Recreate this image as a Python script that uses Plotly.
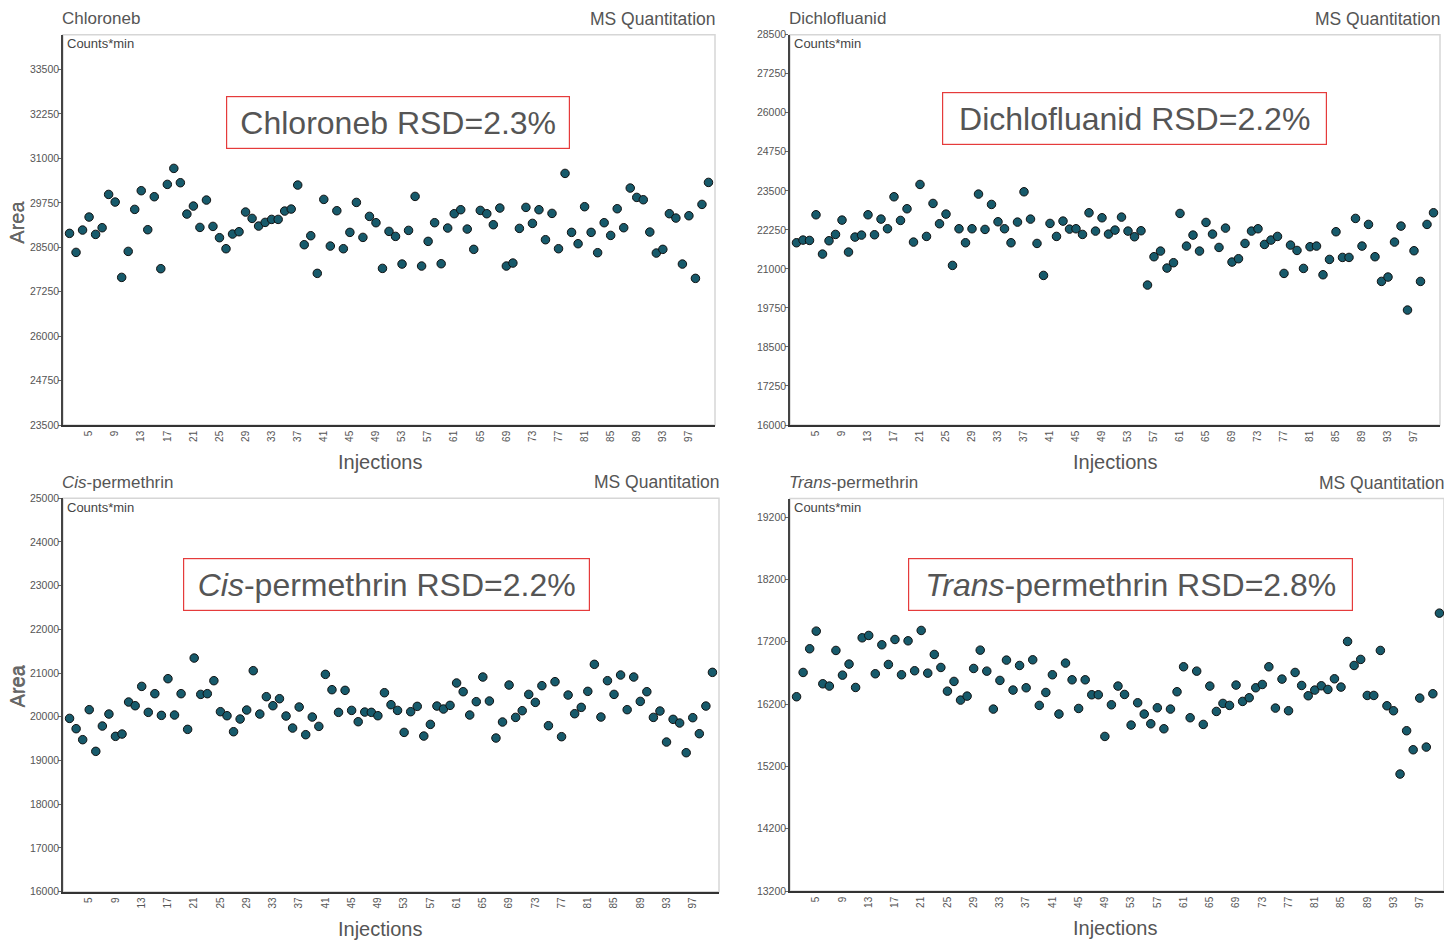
import plotly.graph_objects as go

# ---------------- data ----------------
injections = list(range(2, 101))
x_tick_vals = [5, 9, 13, 17, 21, 25, 29, 33, 37, 41, 45, 49, 53, 57, 61, 65, 69, 73, 77, 81, 85, 89, 93, 97]
x_tick_text = [str(v) for v in x_tick_vals]

chloroneb = [28891, 28356, 28984, 29350, 28862, 29050, 29987, 29772, 27653, 28384,
             29566, 30091, 28994, 29922, 27897, 30269, 30719, 30316, 29434, 29659,
             29059, 29828, 29087, 28769, 28459, 28872, 28937, 29491, 29312, 29097,
             29200, 29284, 29284, 29519, 29575, 30250, 28572, 28825, 27766, 29847,
             28534, 29528, 28459, 28919, 29762, 28778, 29369, 29191, 27906, 28947,
             28806, 28028, 28975, 29931, 27972, 28666, 29191, 28037, 29041, 29444,
             29556, 29012, 28441, 29537, 29444, 29134, 29603, 27972, 28056, 29031,
             29622, 29172, 29556, 28712, 29453, 28459, 30578, 28919, 28600, 29641,
             28919, 28347, 29191, 28834, 29584, 29050, 30166, 29903, 29837, 28928,
             28337, 28441, 29444, 29322, 28028, 29387, 27625, 29706, 30325]

dichlofluanid = [21837, 21922, 21911, 22733, 21474, 21901, 22104, 22562, 21538, 22018,
                 22082, 22733, 22093, 22594, 22285, 23309, 22552, 22925, 21858, 23704,
                 22040, 23096, 22445, 22754, 21111, 22285, 21837, 22285, 23395, 22264,
                 23064, 22509, 22285, 21837, 22498, 23469, 22594, 21815, 20791, 22456,
                 22040, 22530, 22274, 22285, 22104, 22797, 22210, 22637, 22114, 22242,
                 22658, 22210, 22029, 22221, 20482, 21389, 21570, 21026, 21197, 22776,
                 21730, 22082, 21570, 22488, 22114, 21687, 22306, 21218, 21325, 21815,
                 22210, 22285, 21783, 21922, 22040, 20855, 21762, 21591, 21015, 21709,
                 21730, 20812, 21303, 22189, 21367, 21367, 22616, 21730, 22424, 21389,
                 20599, 20738, 21858, 22370, 19681, 21581, 20599, 22424, 22797]

cis_permethrin = [19964, 19728, 19477, 20163, 19210, 19789, 20063, 19553, 19606, 20338,
                  20254, 20696, 20102, 20529, 20033, 20872, 20041, 20529, 19713, 21344,
                  20513, 20529, 20826, 20117, 20025, 19659, 19949, 20155, 21055, 20063,
                  20460, 20254, 20414, 20018, 19743, 20224, 19591, 19995, 19781, 20971,
                  20620, 20102, 20605, 20147, 19888, 20109, 20102, 20025, 20551, 20277,
                  20147, 19644, 20117, 20239, 19560, 19827, 20246, 20178, 20262, 20773,
                  20574, 20041, 20346, 20910, 20361, 19515, 19881, 20727, 19987, 20140,
                  20513, 20330, 20712, 19797, 20803, 19545, 20498, 20071, 20216, 20582,
                  21200, 19995, 20826, 20513, 20956, 20163, 20910, 20353, 20574, 19987,
                  20132, 19423, 19942, 19858, 19179, 19980, 19614, 20246, 21017]

trans_permethrin = [16318, 16708, 17088, 17371, 16526, 16489, 17061, 16665, 16842, 16467,
                    17264, 17302, 16687, 17152, 16836, 17237, 16671, 17216, 16735, 17382,
                    16697, 16997, 16788, 16408, 16564, 16264, 16328, 16772, 17066, 16729,
                    16120, 16580, 16906, 16425, 16820, 16462, 16911, 16179, 16387, 16671,
                    16040, 16858, 16590, 16130, 16590, 16350, 16350, 15681, 16189, 16489,
                    16355, 15863, 16221, 16040, 15884, 16141, 15804, 16120, 16398, 16799,
                    15981, 16729, 15874, 16489, 16082, 16211, 16179, 16505, 16243, 16302,
                    16462, 16515, 16799, 16136, 16601, 16093, 16708, 16499, 16334, 16425,
                    16494, 16435, 16606, 16473, 17205, 16820, 16917, 16339, 16339, 17061,
                    16173, 16093, 15077, 15772, 15467, 16296, 15510, 16366, 17660]

panel_titles = ["Chloroneb", "Dichlofluanid", "<i>Cis</i>-permethrin", "<i>Trans</i>-permethrin"]
rsd_labels = ["Chloroneb RSD=2.3%", "Dichlofluanid RSD=2.2%",
              "<i>Cis</i>-permethrin RSD=2.2%", "<i>Trans</i>-permethrin RSD=2.8%"]
series = [chloroneb, dichlofluanid, cis_permethrin, trans_permethrin]

# ---------------- layout (pixels) ----------------
W, H = 1444, 942
FONT = "Liberation Sans, Arial, Helvetica, sans-serif"
TEXT = "#555555"
MARK = "#175a6b"
RED = "#e53b3b"


def fx(p):
    return p / W


def fy(p):
    return 1 - p / H


panels = [
    dict(x0=63, x1=715, y0=34.7, y1=425, yr=[23500, 34480], dt=1250, t0=23500, xr=[1, 101],
         box=(398, 122.5, 344, 53), ms_right=715, inj_x=381),
    dict(x0=790, x1=1440, y0=34.7, y1=425, yr=[16000, 28500], dt=1250, t0=16000, xr=[1, 101],
         box=(1134.5, 118.5, 385, 53), ms_right=1440, inj_x=1115),
    dict(x0=63, x1=719, y0=498.2, y1=891.7, yr=[16000, 25000], dt=1000, t0=16000, xr=[1, 101],
         box=(386.5, 584.5, 407, 53), ms_right=719, inj_x=381),
    dict(x0=790, x1=1444, y0=498.5, y1=891, yr=[13200, 19500], dt=1000, t0=13200, xr=[1, 100.7],
         box=(1130.5, 584.5, 445, 53), ms_right=1444, inj_x=1115),
]

fig = go.Figure()
layout = dict(
    width=W, height=H,
    margin=dict(l=0, r=0, t=0, b=0, autoexpand=False),
    paper_bgcolor="white", plot_bgcolor="white",
    showlegend=False,
    font=dict(family=FONT, color=TEXT),
)
annotations = []
shapes = []

for i, (p, vals) in enumerate(zip(panels, series)):
    n = i + 1
    xa = "xaxis" if n == 1 else f"xaxis{n}"
    ya = "yaxis" if n == 1 else f"yaxis{n}"
    xr_ = "x" if n == 1 else f"x{n}"
    yr_ = "y" if n == 1 else f"y{n}"

    fig.add_trace(go.Scatter(
        x=injections, y=vals, xaxis=xr_, yaxis=yr_, mode="markers",
        marker=dict(size=8.5, color=MARK, line=dict(color="#111111", width=1)),
        cliponaxis=False, hoverinfo="x+y",
    ))

    layout[xa] = dict(
        domain=[fx(p["x0"]), fx(p["x1"])], anchor=yr_, range=p["xr"],
        tickmode="array", tickvals=x_tick_vals, ticktext=x_tick_text, tickangle=-90,
        tickfont=dict(size=10, color=TEXT), ticks="", showgrid=False, zeroline=False,
        showline=True, linecolor="#333333", linewidth=1.5, automargin=False,
    )
    layout[ya] = dict(
        domain=[fy(p["y1"]), fy(p["y0"])], anchor=xr_, range=p["yr"],
        tick0=p["t0"], dtick=p["dt"], tickformat="d",
        tickfont=dict(size=10.5, color=TEXT), ticks="outside", ticklen=3, tickcolor="#666666",
        ticklabelstandoff=-3,
        showgrid=False, zeroline=False, automargin=False,
        showline=True, linecolor="#444444", linewidth=1.5,
    )

    # light frame (top/right)
    shapes.append(dict(type="rect", xref="paper", yref="paper", layer="below",
                       x0=fx(p["x0"]), x1=fx(p["x1"]), y0=fy(p["y1"]), y1=fy(p["y0"]),
                       line=dict(color="#d6d6d6", width=1.5)))

    # panel title (left) and MS Quantitation (right)
    annotations.append(dict(xref="paper", yref="paper", x=fx(p["x0"] - 3), y=fy(p["y0"] - 16),
                            xanchor="left", yanchor="middle", showarrow=False,
                            text=panel_titles[i], font=dict(size=17, color=TEXT)))
    annotations.append(dict(xref="paper", yref="paper", x=fx(p["ms_right"] + 2), y=fy(p["y0"] - 16),
                            xanchor="right", yanchor="middle", showarrow=False,
                            text="MS Quantitation", font=dict(size=17.5, color=TEXT)))
    # Counts*min
    annotations.append(dict(xref="paper", yref="paper", x=fx(p["x0"] + 2), y=fy(p["y0"] + 9),
                            xanchor="left", yanchor="middle", showarrow=False,
                            text="Counts*min", font=dict(size=13, color="#444444")))
    # Area
    annotations.append(dict(xref="paper", yref="paper", x=fx(17), y=fy(p["y0"] + 188),
                            xanchor="center", yanchor="middle", showarrow=False, textangle=-90,
                            text="Area", font=dict(size=20, color="#666666")))
    # Injections
    annotations.append(dict(xref="paper", yref="paper", x=fx(p["inj_x"]),
                            y=fy(p["y1"] + 37),
                            xanchor="center", yanchor="middle", showarrow=False,
                            text="Injections", font=dict(size=20, color=TEXT)))
    # RSD box
    cx, cy, bw, bh = p["box"]
    annotations.append(dict(xref="paper", yref="paper", x=fx(cx), y=fy(cy),
                            xanchor="center", yanchor="middle", showarrow=False,
                            text=rsd_labels[i], font=dict(size=32, color=TEXT),
                            bordercolor=RED, borderwidth=1.2, bgcolor="white",
                            width=bw - 12, height=bh - 12, borderpad=5, align="center"))

layout["annotations"] = annotations
layout["shapes"] = shapes
fig.update_layout(**layout)
fig.write_html(
    "out.html",
    config={"displayModeBar": False},
    post_script="document.body.style.margin='0';document.body.style.overflow='hidden';",
)
